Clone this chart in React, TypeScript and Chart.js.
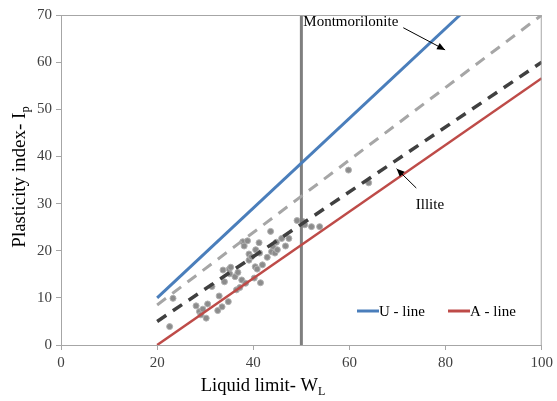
import React, { useEffect, useRef } from "react";
import { Chart, registerables } from "chart.js";

Chart.register(...registerables);

// Sample data (liquid limit, plasticity index)
const SAMPLE_LL = [22.6, 23.3, 28.1, 28.8, 29.1, 30.2, 30.5, 31.4, 32.6, 32.9, 33.5, 33.7, 34.0, 34.8, 35.0, 35.1, 35.3, 36.2, 36.5, 37.2, 37.6, 37.8, 38.1, 38.4, 38.8, 39.1, 39.1, 40.2, 40.4, 40.5, 40.8, 41.2, 41.3, 41.5, 41.9, 42.9, 43.6, 43.8, 44.1, 44.5, 45.0, 45.9, 46.7, 47.4, 49.1, 50.3, 50.7, 52.1, 53.8, 59.8, 64.0, 29.5, 36.8, 39.6, 44.8];
const SAMPLE_PI = [3.9, 9.9, 8.3, 7.1, 6.4, 5.7, 8.7, 12.4, 7.3, 10.4, 8.1, 15.9, 13.4, 9.2, 16.1, 15.1, 16.5, 14.5, 11.7, 12.2, 13.8, 21.9, 21.0, 13.1, 22.1, 18.0, 19.3, 14.2, 16.6, 20.2, 16.1, 21.7, 19.5, 13.2, 17.0, 18.6, 24.1, 19.8, 20.9, 19.5, 20.2, 22.6, 21.0, 22.6, 26.4, 26.2, 25.5, 25.1, 25.1, 37.1, 34.4, 7.6, 15.4, 18.7, 21.8];

// Reference lines
const U_LINE_X = [20, 83];
const U_LINE_Y = [10, 70];
const A_LINE_X = [20, 100];
const A_LINE_Y = [0, 56.6];
const ILLITE_X = [20, 100];
const ILLITE_Y = [5, 60];
const MONT_X = [20, 100];
const MONT_Y = [8.5, 70];
const WL50_X = [50, 50];
const WL50_Y = [0, 70];

const X_TICKS = [0, 20, 40, 60, 80, 100];
const Y_TICKS = [0, 10, 20, 30, 40, 50, 60, 70];

const LABELS = ["U - line", "A - line"];
const ANNOT_TEXT = ["Montmorilonite", "Illite"];
const ANNOT_POS = [[50.4, 68.6], [73.8, 29.6]];
const ARROW_FROM = [[71.2, 67.3], [73.9, 33.3]];
const ARROW_TO = [[79.9, 62.6], [69.8, 37.4]];

const SERIF = "'Liberation Serif', 'Times New Roman', serif";
const BLUE = "#4a7ebb";
const RED = "#be4b48";

const pts = (xs: number[], ys: number[]) => xs.map((x, i) => ({ x, y: ys[i] }));

export default function App() {
  const ref = useRef<HTMLCanvasElement>(null);
  useEffect(() => {
    if (!ref.current) return;
    const drawArrow = (ctx: CanvasRenderingContext2D, x1: number, y1: number, x2: number, y2: number) => {
      ctx.save();
      ctx.strokeStyle = "#000";
      ctx.fillStyle = "#000";
      ctx.lineWidth = 1;
      ctx.beginPath();
      ctx.moveTo(x1, y1);
      ctx.lineTo(x2, y2);
      ctx.stroke();
      const ang = Math.atan2(y2 - y1, x2 - x1);
      const L = 8, W = 3.5;
      ctx.beginPath();
      ctx.moveTo(x2, y2);
      ctx.lineTo(x2 - L * Math.cos(ang) + W * Math.sin(ang), y2 - L * Math.sin(ang) - W * Math.cos(ang));
      ctx.lineTo(x2 - L * Math.cos(ang) - W * Math.sin(ang), y2 - L * Math.sin(ang) + W * Math.cos(ang));
      ctx.closePath();
      ctx.fill();
      ctx.restore();
    };
    const overlay = {
      id: "overlay",
      afterDraw(chart: any) {
        const { ctx, chartArea: a, scales } = chart;
        const xs = scales.x, ys = scales.y;
        ctx.save();
        // border
        ctx.strokeStyle = "#a6a6a6";
        ctx.lineWidth = 1;
        ctx.strokeRect(a.left + 0.5, a.top + 0.5, a.right - a.left - 1, a.bottom - a.top);
        // annotations
        ctx.fillStyle = "#000";
        ctx.font = `15px ${SERIF}`;
        ctx.textBaseline = "middle";
        ctx.textAlign = "left";
        ANNOT_TEXT.forEach((t, i) => {
          ctx.fillText(t, xs.getPixelForValue(ANNOT_POS[i][0]), ys.getPixelForValue(ANNOT_POS[i][1]));
          drawArrow(ctx,
            xs.getPixelForValue(ARROW_FROM[i][0]), ys.getPixelForValue(ARROW_FROM[i][1]),
            xs.getPixelForValue(ARROW_TO[i][0]), ys.getPixelForValue(ARROW_TO[i][1]));
        });
        // legend
        const lgY = a.bottom - 34;
        const cols = [BLUE, RED];
        const lx = [357, 448];
        ctx.font = `15px ${SERIF}`;
        LABELS.forEach((l, i) => {
          ctx.strokeStyle = cols[i];
          ctx.lineWidth = 3;
          ctx.beginPath();
          ctx.moveTo(lx[i], lgY);
          ctx.lineTo(lx[i] + 22, lgY);
          ctx.stroke();
          ctx.fillStyle = "#000";
          ctx.fillText(l, lx[i] + 22, lgY + 1);
        });
        // axis titles with subscripts
        ctx.fillStyle = "#000";
        ctx.font = `18.5px ${SERIF}`;
        const xt = "Liquid limit- W";
        const xw = ctx.measureText(xt).width;
        ctx.font = `12px ${SERIF}`;
        const xsw = ctx.measureText("L").width;
        const xcx = 263;
        const xstart = xcx - (xw + xsw) / 2;
        ctx.font = `18.5px ${SERIF}`;
        ctx.textAlign = "left";
        ctx.textBaseline = "alphabetic";
        ctx.fillText(xt, xstart, 391);
        ctx.font = `12px ${SERIF}`;
        ctx.fillText("L", xstart + xw, 395);
        // y title
        ctx.save();
        ctx.translate(25, 177);
        ctx.rotate(-Math.PI / 2);
        ctx.font = `19px ${SERIF}`;
        const yt = "Plasticity index- I";
        const yw = ctx.measureText(yt).width;
        ctx.font = `12.5px ${SERIF}`;
        const ysw = ctx.measureText("p").width;
        const ystart = -(yw + ysw) / 2;
        ctx.font = `19px ${SERIF}`;
        ctx.fillText(yt, ystart, 0);
        ctx.font = `12.5px ${SERIF}`;
        ctx.fillText("p", ystart + yw, 4);
        ctx.restore();
        ctx.restore();
      },
    };
    const lineDs = (label: string, xs: number[], ys: number[], color: string, width: number, dash: number[] = []) => ({
      label,
      type: "scatter" as const,
      data: pts(xs, ys),
      showLine: true,
      borderColor: color,
      borderWidth: width,
      borderDash: dash,
      pointRadius: 0,
      fill: false,
      tension: 0,
    });
    const chart = new Chart(ref.current, {
      type: "scatter",
      data: {
        datasets: [
          lineDs("U - line", U_LINE_X, U_LINE_Y, BLUE, 3),
          lineDs("A - line", A_LINE_X, A_LINE_Y, RED, 2.5),
          lineDs("Montmorilonite", MONT_X, MONT_Y, "#a6a6a6", 3, [11, 8]),
          lineDs("Illite", ILLITE_X, ILLITE_Y, "#404040", 3.5, [11, 8]),
          lineDs("WL50", WL50_X, WL50_Y, "#7f7f7f", 3),
          {
            label: "Samples",
            data: pts(SAMPLE_LL, SAMPLE_PI),
            backgroundColor: "#8c8c8c",
            borderColor: "#b0b0b0",
            borderWidth: 1,
            pointRadius: 3,
          } as any,
        ],
      },
      options: {
        animation: false,
        responsive: false,
        layout: { padding: { left: 0, right: 13, top: 15, bottom: 0 } },
        plugins: { legend: { display: false }, tooltip: { enabled: false } },
        scales: {
          x: {
            type: "linear",
            min: 0,
            max: 100,
            afterBuildTicks: (s: any) => { s.ticks = X_TICKS.map((v) => ({ value: v })); },
            afterFit: (s: any) => { s.height = 56; },
            grid: { drawOnChartArea: false, color: "#a6a6a6", tickLength: 5 },
            border: { color: "#a6a6a6" },
            ticks: { color: "#404040", font: { family: SERIF, size: 15 }, padding: 4 },
          },
          y: {
            type: "linear",
            min: 0,
            max: 70,
            afterBuildTicks: (s: any) => { s.ticks = Y_TICKS.map((v) => ({ value: v })); },
            afterFit: (s: any) => { s.width = 61; },
            grid: { drawOnChartArea: false, color: "#a6a6a6", tickLength: 5 },
            border: { color: "#a6a6a6" },
            ticks: { color: "#404040", font: { family: SERIF, size: 15 }, padding: 4 },
          },
        },
      },
      plugins: [overlay],
    } as any);
    return () => chart.destroy();
  }, []);
  return (
    <div style={{ position: "fixed", left: 0, top: 0, width: 557, height: 401, background: "#fff" }}>
      <canvas ref={ref} width={557} height={401} style={{ width: 557, height: 401 }} />
    </div>
  );
}
